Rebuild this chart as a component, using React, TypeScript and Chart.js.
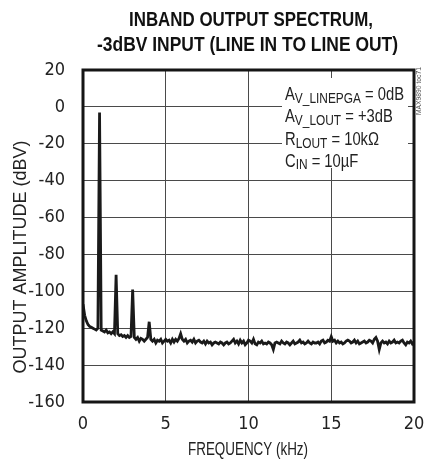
import React, { useEffect, useRef } from "react";
import { Chart, registerables } from "chart.js";

Chart.register(...registerables);

// Frequency grid of the trace (kHz)
const FREQ_STEP_KHZ = 0.1;
// Noise floor of the spectrum, one value every 0.1 kHz from 0 to 20 kHz (dBV)
const NOISE_DBV = [
  -107, -113, -116, -118, -119, -119.5, -120, -120.5, -121, -120,
  -120.5, -121, -121.5, -122, -121, -122.5, -122, -123, -122, -123,
  -122.5, -123, -124, -123.5, -124.5, -124, -125, -124, -125, -124.5,
  -124.5, -125, -126, -125, -127, -125.5, -126, -127, -126, -125,
  -125.5, -126, -127, -126, -128, -126.5, -127, -126, -128, -127,
  -126, -127, -126.5, -128, -126, -127.5, -126, -127, -125.5, -123,
  -126, -127, -126, -128, -127, -126.5, -127.5, -126, -128, -127,
  -126.5, -127.5, -128, -127, -128.5, -127, -128, -127.5, -129, -128,
  -127.5, -128, -128.5, -127.5, -128, -129, -128, -127.5, -128.5, -128,
  -127, -126, -128, -127, -128.5, -126.5, -128, -127, -129, -128,
  -126.5, -127, -128, -126, -128.5, -129, -127.5, -128, -127, -128.5,
  -128, -128.5, -127.5, -128, -129, -131.5, -128, -127.5, -128, -128.5,
  -127, -128, -128.5, -127.5, -128, -129, -128, -127, -128.5, -128,
  -127.5, -126.5, -128, -127.5, -128.5, -128, -127, -128, -128.5, -127.5,
  -128, -128, -127.5, -128.5, -127, -126.5, -128, -127.5, -126.5, -127,
  -124.5, -127, -126.5, -128, -127, -128, -127.5, -128.5, -128, -127,
  -126.5, -127, -128, -127.5, -126.5, -128, -127, -128.5, -128, -127.5,
  -127, -128, -127.5, -126.5, -127, -128, -126, -125, -127, -131.5,
  -128, -127, -128, -127.5, -128.5, -127, -128, -127.5, -126.5, -128,
  -127.5, -128, -127, -126.5, -128, -129, -127.5, -128, -127, -128.5, -127.5,
];
// Fundamental and harmonics (kHz, dBV)
const SPIKE_FREQ_KHZ = [1, 2, 3, 4];
const SPIKE_DBV = [-3, -91, -99, -116.5];

const X_MIN = 0;
const X_MAX = 20;
const X_STEP = 5;
const Y_MIN = -160;
const Y_MAX = 20;
const Y_STEP = 20;

const TITLE_LINES = ["INBAND OUTPUT SPECTRUM,", "-3dBV INPUT (LINE IN TO LINE OUT)"];
const X_TITLE = "FREQUENCY (kHz)";
const Y_TITLE = "OUTPUT AMPLITUDE (dBV)";
const NOTE_LINES = [
  [["A", false], ["V_LINEPGA", true], [" = 0dB", false]],
  [["A", false], ["V_LOUT", true], [" = +3dB", false]],
  [["R", false], ["LOUT", true], [" = 10k\u03A9", false]],
  [["C", false], ["IN", true], [" = 10\u00B5F", false]],
] as [string, boolean][][];
const TOC_LABEL = "MAX9890 toc71";

const NARROW = "'Liberation Sans Narrow', 'Arial Narrow', 'DejaVu Sans Condensed', sans-serif";
const SANS = "'Liberation Sans', Arial, sans-serif";
const TEXT_COLOR = "#222";

function buildPoints() {
  const pts = NOISE_DBV.map((v, i) => ({ x: +(i * FREQ_STEP_KHZ).toFixed(2), y: v }));
  SPIKE_FREQ_KHZ.forEach((f, k) => {
    const idx = Math.round(f / FREQ_STEP_KHZ);
    pts[idx] = { x: f, y: SPIKE_DBV[k] };
  });
  return pts;
}

// draw text squeezed horizontally so that it spans `width` px, centered at cx
function fitText(ctx: CanvasRenderingContext2D, text: string, cx: number, y: number, width: number) {
  const w = ctx.measureText(text).width;
  ctx.save();
  ctx.translate(cx, y);
  ctx.scale(width / w, 1);
  ctx.textAlign = "center";
  ctx.fillText(text, 0, 0);
  ctx.restore();
}

const decorPlugin = {
  id: "decor",
  afterDraw(chart: any) {
    const ctx: CanvasRenderingContext2D = chart.ctx;
    const a = chart.chartArea;
    ctx.save();

    // Title (bold, condensed)
    ctx.fillStyle = "#111";
    ctx.font = `bold 21px ${SANS}`;
    ctx.textBaseline = "alphabetic";
    fitText(ctx, TITLE_LINES[0], (129 + 373) / 2, 26, 373 - 129);
    fitText(ctx, TITLE_LINES[1], (97 + 398) / 2, 50.5, 398 - 97);

    // White box behind the notes
    ctx.fillStyle = "#fff";
    ctx.fillRect(282, 78, 126, 90);

    // Notes with subscripts, condensed so that the first line spans 285..404
    ctx.fillStyle = TEXT_COLOR;
    ctx.textAlign = "left";
    const bases = [100, 122, 145, 166.5];
    const fontFor = (sub: boolean) => (sub ? `14.5px ${SANS}` : `18px ${SANS}`);
    const segW = (segs: [string, boolean][]) =>
      segs.reduce((s, [txt, sub]) => {
        ctx.font = fontFor(sub);
        return s + ctx.measureText(txt).width;
      }, 0);
    const sx = (404 - 285) / segW(NOTE_LINES[0]);
    NOTE_LINES.forEach((segs, i) => {
      ctx.save();
      ctx.translate(285, bases[i]);
      ctx.scale(sx, 1);
      let x = 0;
      for (const [txt, sub] of segs) {
        ctx.font = fontFor(sub);
        ctx.fillText(txt, x, sub ? 2.5 : 0);
        x += ctx.measureText(txt).width;
      }
      ctx.restore();
    });

    // Axis titles
    ctx.textBaseline = "middle";
    ctx.font = `18.5px ${SANS}`;
    fitText(ctx, X_TITLE, 248, 450, 120);
    ctx.save();
    ctx.font = `18px ${SANS}`;
    ctx.translate(21, 257);
    ctx.rotate(-Math.PI / 2);
    fitText(ctx, Y_TITLE, 0, 0, 233);
    ctx.restore();

    // Small vertical figure id
    ctx.save();
    ctx.fillStyle = "#555";
    ctx.font = `8px ${SANS}`;
    ctx.translate(418.5, 91);
    ctx.rotate(-Math.PI / 2);
    fitText(ctx, TOC_LABEL, 0, 0, 48);
    ctx.restore();

    // Plot frame
    ctx.strokeStyle = "#151515";
    ctx.lineWidth = 3;
    ctx.strokeRect(a.left, a.top, a.right - a.left, a.bottom - a.top);
    ctx.restore();
  },
};

export default function App() {
  const ref = useRef<HTMLCanvasElement | null>(null);
  useEffect(() => {
    if (!ref.current) return;
    const chart = new Chart(ref.current, {
      type: "line",
      data: {
        datasets: [
          {
            data: buildPoints(),
            borderColor: "#1a1a1a",
            borderWidth: 2.8,
            pointRadius: 0,
            tension: 0,
            fill: false,
          },
        ],
      },
      options: {
        responsive: false,
        animation: false,
        devicePixelRatio: 1,
        parsing: false,
        layout: { autoPadding: false, padding: { top: 70, right: 10, left: 0, bottom: 0 } },
        plugins: { legend: { display: false }, tooltip: { enabled: false }, title: { display: false } },
        scales: {
          x: {
            type: "linear",
            min: X_MIN,
            max: X_MAX,
            border: { display: false },
            grid: { color: "#4a4a4a", lineWidth: 1, drawTicks: false },
            ticks: {
              stepSize: X_STEP,
              padding: 12,
              color: TEXT_COLOR,
              font: { family: NARROW, size: 18 },
              maxRotation: 0,
            },
            afterFit(scale: any) {
              scale.height = 60;
              scale.paddingLeft = 0;
              scale.paddingRight = 0;
            },
          },
          y: {
            type: "linear",
            min: Y_MIN,
            max: Y_MAX,
            border: { display: false },
            grid: { color: "#4a4a4a", lineWidth: 1, drawTicks: false },
            ticks: {
              stepSize: Y_STEP,
              padding: 18,
              color: TEXT_COLOR,
              font: { family: NARROW, size: 18 },
            },
            afterFit(scale: any) {
              scale.width = 83;
              scale.paddingTop = 0;
              scale.paddingBottom = 0;
            },
          },
        },
      },
      plugins: [decorPlugin],
    } as any);
    return () => chart.destroy();
  }, []);

  return (
    <div style={{ position: "fixed", left: 0, top: 0, width: 424, height: 462, background: "#fff" }}>
      <canvas ref={ref} width={424} height={462} style={{ display: "block" }} />
    </div>
  );
}
